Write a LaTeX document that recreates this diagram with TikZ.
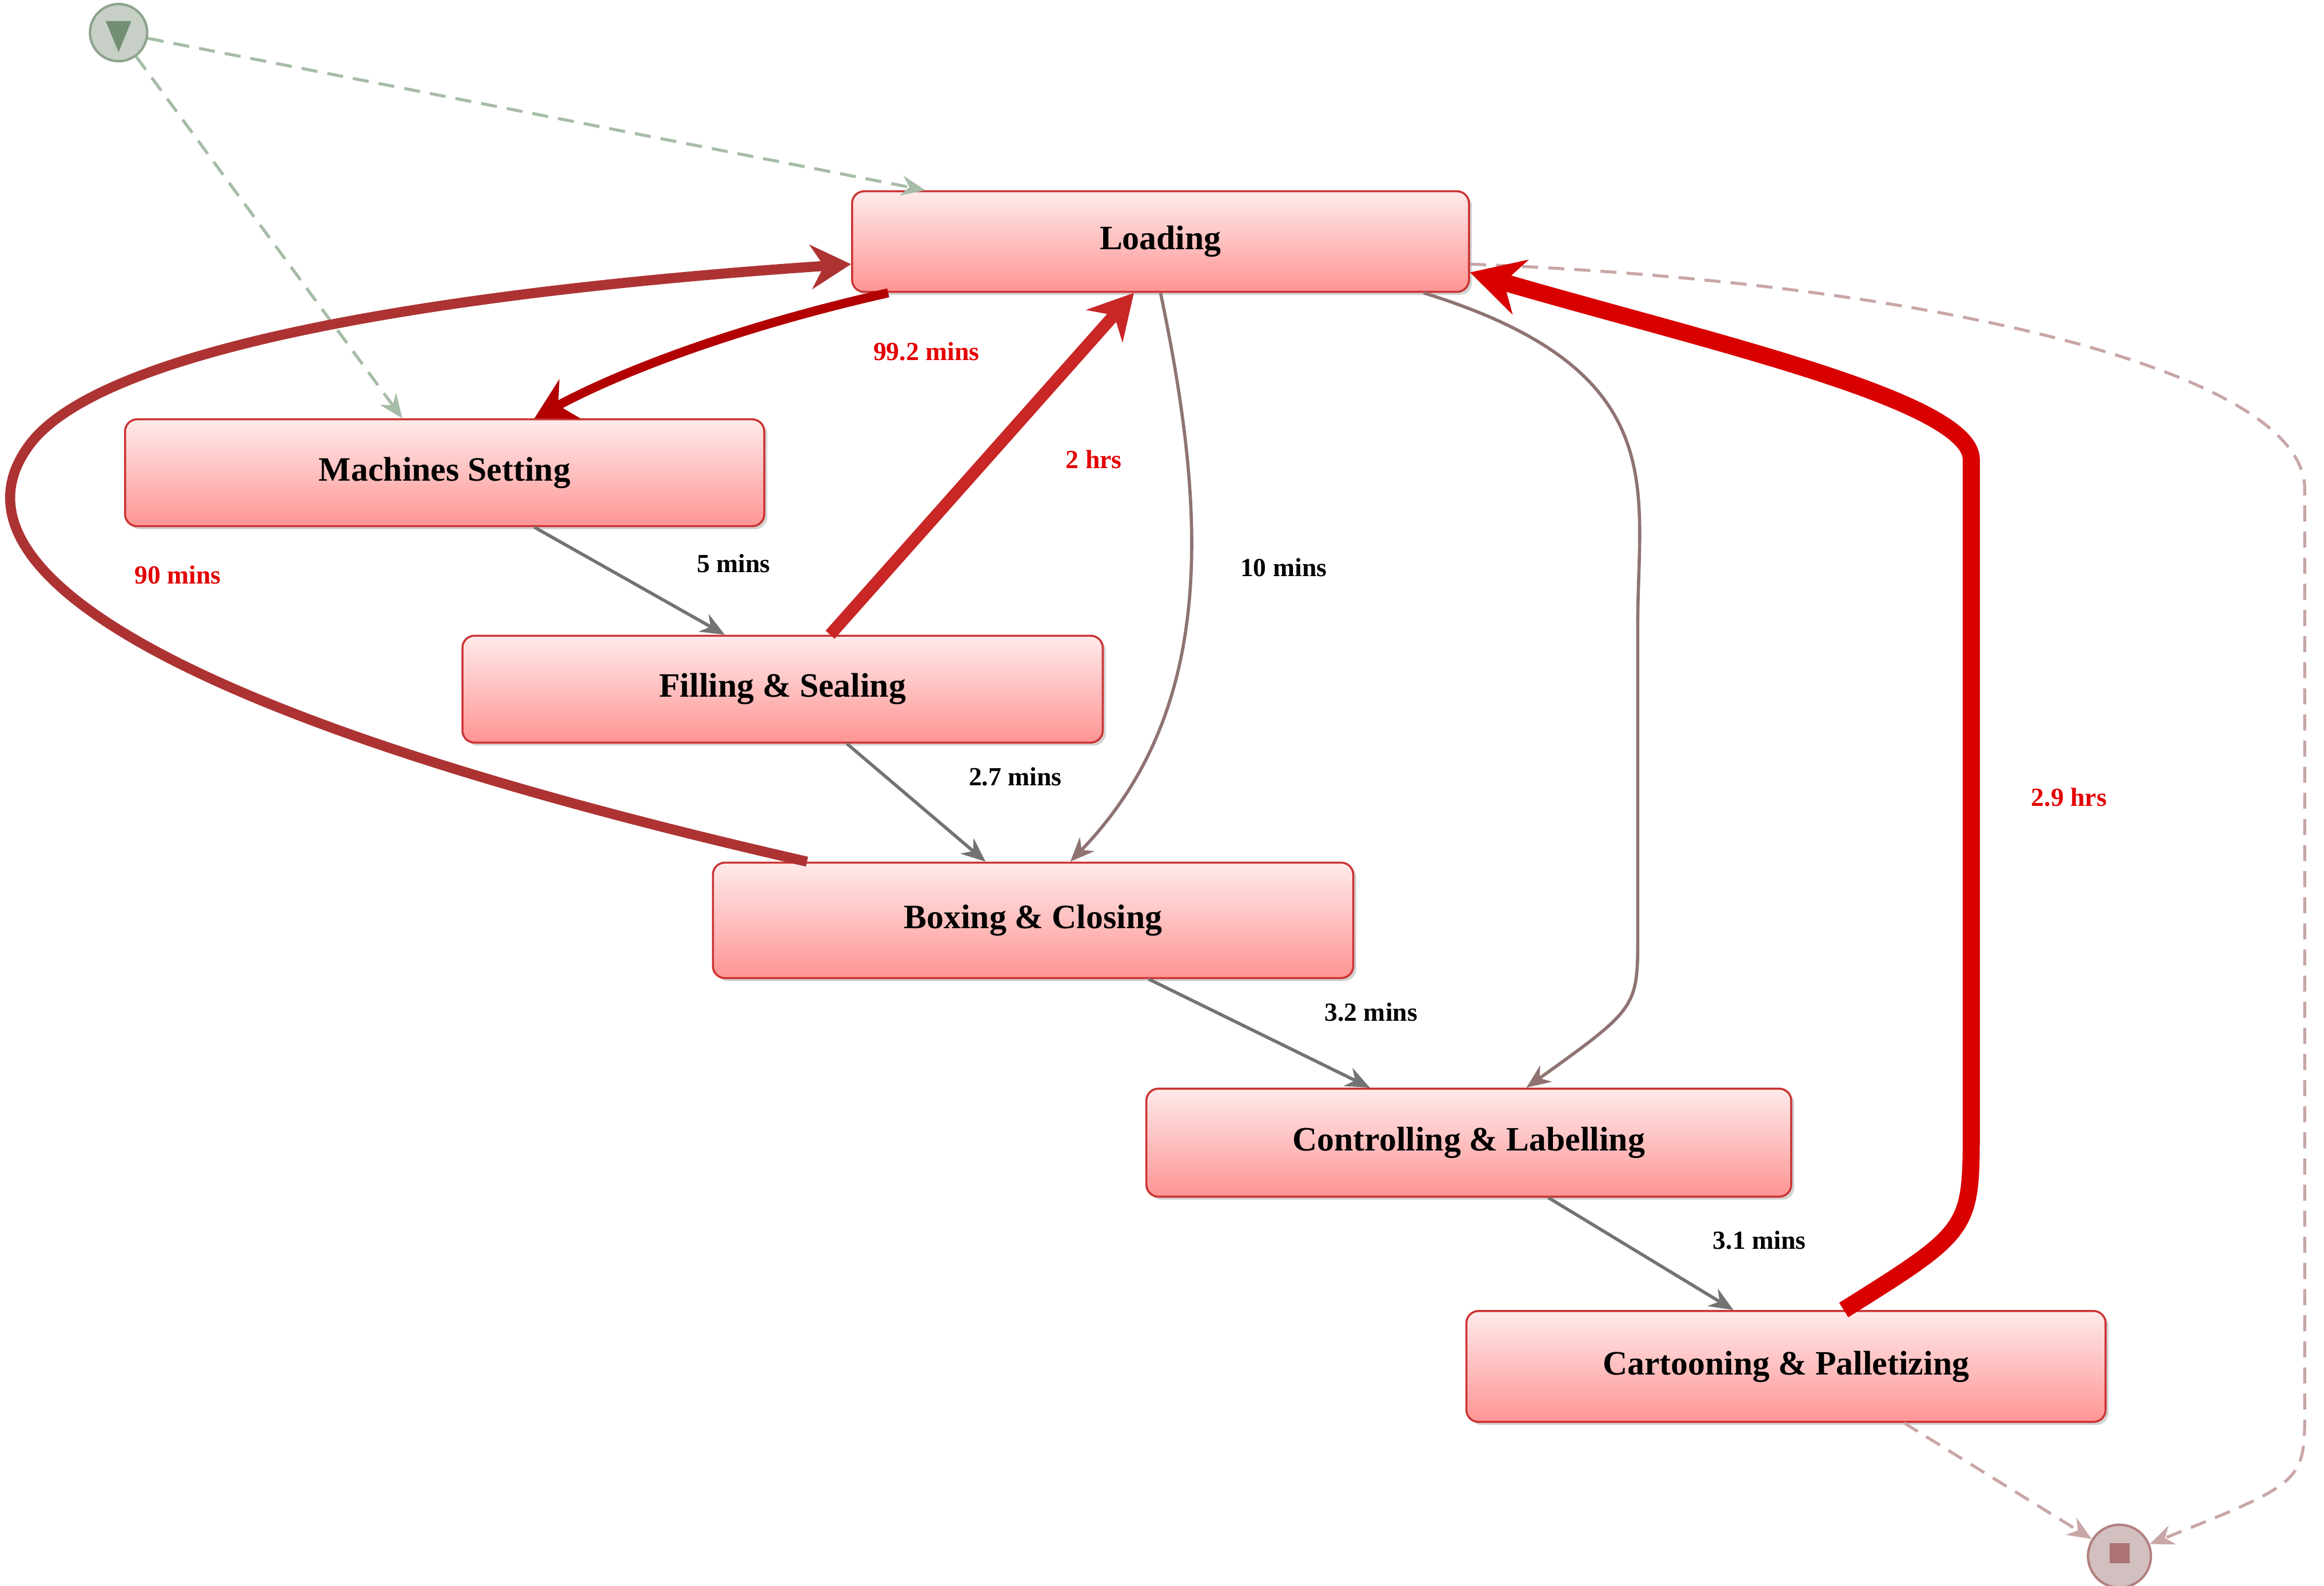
\documentclass[tikz,border=0pt]{standalone}
\usepackage{fontspec}
\setmainfont{Liberation Serif}
\usetikzlibrary{calc,arrows.meta,shadows,shapes.geometric}
\begin{document}
\begin{tikzpicture}[x=0.02593cm,y=-0.02593cm,
 act/.style={rounded corners=6pt,draw=red!75!black!80,line width=1pt,top color=red!8,bottom color=red!42,
   font=\bfseries\fontsize{17}{20}\selectfont,inner sep=0pt,drop shadow={shadow xshift=1.5pt,shadow yshift=-1.5pt,opacity=0.35}},
 gr/.style={draw=black!55,line width=1.6pt,-{Stealth[length=12pt,width=10pt]}},
 lbl/.style={font=\bfseries\fontsize{13}{15}\selectfont},
 rl/.style={lbl,text=red!90!black},
 dashg/.style={draw=green!25!black!35,dashed,line width=1.5pt,dash pattern=on 8pt off 5pt,-{Stealth[length=12pt,width=10pt]}},
 dashr/.style={draw=red!40!black!35,dashed,line width=1.5pt,dash pattern=on 8pt off 5pt,-{Stealth[length=12pt,width=10pt]}}]
\useasboundingbox (0,0) rectangle (1568,1070);
\node[act,minimum width=10.79cm,minimum height=1.76cm] (load) at (783,163) {Loading};
\node[act,minimum width=11.18cm,minimum height=1.87cm] (ms) at (300,319) {Machines Setting};
\node[act,minimum width=11.2cm,minimum height=1.87cm] (fs) at (528,465) {Filling \& Sealing};
\node[act,minimum width=11.2cm,minimum height=2.02cm] (bc) at (697,621) {Boxing \& Closing};
\node[act,minimum width=11.28cm,minimum height=1.89cm] (cl) at (991,771) {Controlling \& Labelling};
\node[act,minimum width=11.18cm,minimum height=1.94cm] (cp) at (1205,922) {Cartooning \& Palletizing};
\node[circle,draw=green!20!black!45,fill=green!15!black!22,line width=1.2pt,minimum size=1.0cm] (start) at (80,22) {};
\node[isosceles triangle,shape border rotate=-90,fill=green!20!black!55,inner sep=0pt,minimum width=0.45cm,minimum height=0.35cm] (st) at (80,20) {};
\node[circle,draw=red!40!black!50,fill=red!30!black!25,line width=1.2pt,minimum size=1.1cm] (end) at (1430,1050) {};
\node[rectangle,fill=red!40!black!55,minimum size=0.35cm,inner sep=0pt] (en) at (1430,1048) {};
% start edges
\draw[dashg] (start) -- ($(load.north west)!0.12!(load.north east)$);
\draw[dashg] (start) -- ($(ms.north west)!0.434!(ms.north east)$);
% end edges
\draw[dashr] ($(load.north east)!0.72!(load.south east)$) .. controls (1300,190) and (1555,250) .. (1555,330) -- (1555,950) .. controls (1555,1000) .. (end);
\draw[dashr] ($(cp.south west)!0.684!(cp.south east)$) -- (end);
% red edges
\draw[draw=red!70!black,line width=4.5pt,-{Stealth[length=20pt,width=22pt]}] ($(load.south west)!0.06!(load.south east)$) .. controls (500,220) and (420,250) .. ($(ms.north west)!0.64!(ms.north east)$);
\draw[draw=red!60!black!80,line width=5pt,-{Stealth[length=20pt,width=22pt]}] ($(bc.north west)!0.148!(bc.north east)$) .. controls (100,480) and (-40,380) .. (20,300) .. controls (80,220) and (400,190) .. ($(load.north west)!0.72!(load.south west)$);
\draw[draw=red!75!black!85,line width=6pt,-{Stealth[length=22pt,width=24pt]}] ($(fs.north west)!0.574!(fs.north east)$) -- ($(load.south west)!0.457!(load.south east)$);
\draw[draw=red!85!black,line width=8.5pt,-{Stealth[length=26pt,width=28pt]}] ($(cp.north west)!0.59!(cp.north east)$) .. controls (1330,830) .. (1330,760) -- (1330,310) .. controls (1330,270) and (1150,230) .. ($(load.north east)!0.8!(load.south east)$);
% gray edges
\draw[gr] ($(ms.south west)!0.64!(ms.south east)$) -- ($(fs.north west)!0.41!(fs.north east)$);
\draw[gr] ($(fs.south west)!0.6!(fs.south east)$) -- ($(bc.north west)!0.426!(bc.north east)$);
\draw[gr,draw=red!20!black!55] ($(load.south west)!0.5!(load.south east)$) .. controls (815,350) and (820,480) .. ($(bc.north west)!0.558!(bc.north east)$);
\draw[gr,draw=red!20!black!55] ($(load.south west)!0.925!(load.south east)$) .. controls (1130,250) and (1105,330) .. (1105,420) -- (1105,630) .. controls (1105,680) .. ($(cl.north west)!0.589!(cl.north east)$);
\draw[gr] ($(bc.south west)!0.68!(bc.south east)$) -- ($(cl.north west)!0.347!(cl.north east)$);
\draw[gr] ($(cl.south west)!0.623!(cl.south east)$) -- ($(cp.north west)!0.418!(cp.north east)$);
% labels
\node[rl] (l1) at (625,237) {99.2 mins};
\node[rl] (l2) at (738,310) {2 hrs};
\node[rl] (l3) at (120,388) {90 mins};
\node[rl] (l4) at (1396,538) {2.9 hrs};
\node[lbl] (l5) at (495,380) {5 mins};
\node[lbl] (l6) at (866,383) {10 mins};
\node[lbl] (l7) at (685,524) {2.7 mins};
\node[lbl] (l8) at (925,683) {3.2 mins};
\node[lbl] (l9) at (1187,837) {3.1 mins};
\end{tikzpicture}
\end{document}
